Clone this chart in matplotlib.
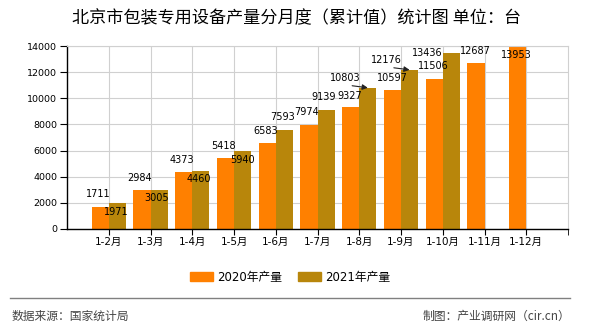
import matplotlib
matplotlib.use('Agg')
import matplotlib.pyplot as plt
from matplotlib.lines import Line2D
from matplotlib.patches import Patch

plt.rcParams['font.family'] = ['DejaVu Sans', 'Noto Sans CJK SC']

# 数据
meses = ['1-2月', '1-3月', '1-4月', '1-5月', '1-6月', '1-7月', '1-8月',
         '1-9月', '1-10月', '1-11月', '1-12月']
producao_2020 = [1711, 2984, 4373, 5418, 6583, 7974, 9327, 10597, 11506, 12687, 13953]
producao_2021 = [1971, 3005, 4460, 5940, 7593, 9139, 10803, 12176, 13436]
yticks = [0, 2000, 4000, 6000, 8000, 10000, 12000, 14000]

# deslocamento dos rótulos (pixels) em relação ao topo da barra
off_2020 = [(-1.5, 12.5), (-2, 12), (-2, 12), (-2, 12), (-1.5, 12), (-2, 13),
            (-1, 11), (-0.5, 12.5), (-1, 12.5), (-1, 12), (-1, -8)]
off_2021 = [(-1, -9), (-2, -8), (-2, -8), (0, -8.5), (-2, 12.5), (-2, 12.5),
            (-23, 10), (-23, 10), (-24, 0)]
com_seta = [False, False, False, False, False, False, True, True, False]

cor_2020 = '#FF8000'
cor_2021 = '#B8860B'
largura = 0.41

fig = plt.figure(figsize=(5.9, 3.3), dpi=100)
ax = fig.add_axes([67 / 590, 1 - 229 / 330, 501 / 590, 183 / 330])

x20 = [i - largura / 2 for i in range(len(producao_2020))]
x21 = [i + largura / 2 for i in range(len(producao_2021))]
ax.bar(x20, producao_2020, width=largura, color=cor_2020, zorder=2)
ax.bar(x21, producao_2021, width=largura, color=cor_2021, zorder=2)

for x, v, (dx, dy) in zip(x20, producao_2020, off_2020):
    ax.annotate(str(v), (x, v), xytext=(dx, dy), textcoords='offset pixels',
                ha='center', va='center', fontsize=7, zorder=4)

for x, v, (dx, dy), seta in zip(x21, producao_2021, off_2021, com_seta):
    props = None
    if seta:
        props = dict(arrowstyle='-|>', color='#222222', lw=0.8,
                     mutation_scale=8, relpos=(0, 0), shrinkA=1, shrinkB=0)
    ax.annotate(str(v), (x, v), xytext=(dx, dy), textcoords='offset pixels',
                ha='center', va='center', fontsize=7, zorder=4,
                arrowprops=props)

ax.set_xlim(-1, len(meses))
ax.set_ylim(0, 14000)
ax.set_xticks(range(len(meses)))
ax.set_xticklabels(meses, fontsize=7.5)
ax.set_xticks([len(meses)], minor=True)
ax.set_yticks(yticks)
ax.set_yticklabels([str(t) for t in yticks], fontsize=6.8)
ax.tick_params(axis='x', which='both', length=4, pad=2, color='black')
ax.tick_params(axis='y', length=5, pad=2)
ax.grid(True, color='#d0d0d0', lw=0.8, zorder=0)
ax.set_axisbelow(True)
for lado in ['top', 'right']:
    ax.spines[lado].set_color('#d0d0d0')
    ax.spines[lado].set_linewidth(0.8)
for lado in ['left', 'bottom']:
    ax.spines[lado].set_color('black')
    ax.spines[lado].set_linewidth(1)

fig.text(297 / 590, 1 - 18 / 330, '北京市包装专用设备产量分月度（累计值）统计图 单位：台',
         ha='center', va='center', fontsize=12.3,
         family=['Noto Sans CJK SC', 'DejaVu Sans'])

handles = [Patch(color=cor_2020), Patch(color=cor_2021)]
fig.legend(handles, ['2020年产量', '2021年产量'], loc='center',
           bbox_to_anchor=(290 / 590, 1 - 277 / 330), ncol=2, frameon=False,
           handlelength=1.9, handleheight=0.7,
           handletextpad=0.35, columnspacing=1.4,
           prop={'family': ['DejaVu Sans', 'Noto Sans CJK SC'], 'size': 8.5})

fig.add_artist(Line2D([10 / 590, 570 / 590], [1 - 298 / 330] * 2,
                      color='#808080', lw=1))
fig.text(12 / 590, 1 - 316 / 330, '数据来源：国家统计局', ha='left', va='center',
         fontsize=8.5, color='#444444', family=['Noto Sans CJK SC', 'DejaVu Sans'])
fig.text(570 / 590, 1 - 316 / 330, '制图：产业调研网（cir.cn）', ha='right', va='center',
         fontsize=8.5, color='#444444', family=['Noto Sans CJK SC', 'DejaVu Sans'])

fig.savefig('out.png', dpi=100)
